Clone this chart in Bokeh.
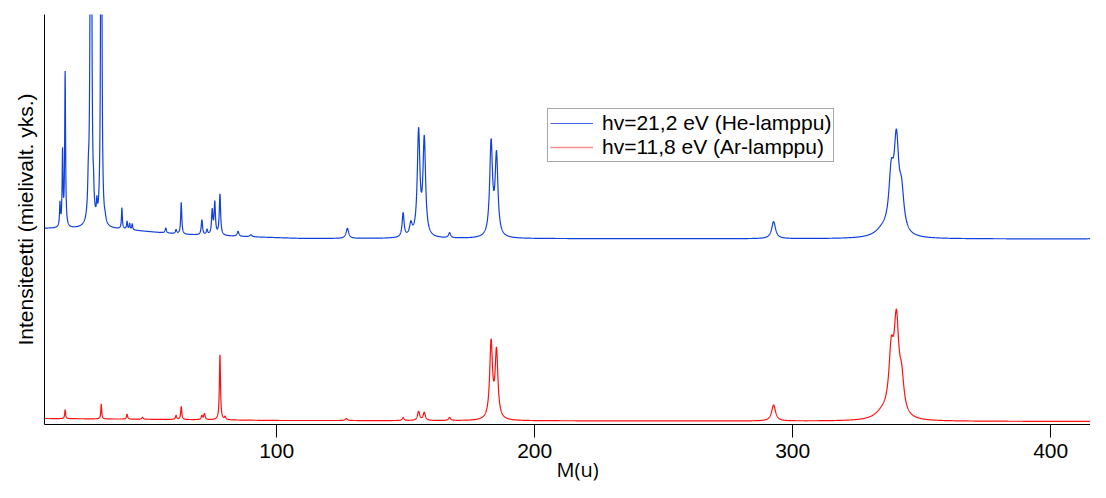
import numpy as np
from bokeh.plotting import figure
from bokeh.models import Range1d, FixedTicker, Legend, LegendItem, Title
from bokeh.embed import file_html
from bokeh.resources import INLINE

# ---------------- data ----------------
x_ticks = [100, 200, 300, 400]
x_label = "M(u)"
y_label = "Intensiteetti (mielivalt. yks.)"
series_names = ["hv=21,2 eV (He-lamppu)", "hv=11,8 eV (Ar-lamppu)"]

# He-lamp spectrum (upper, blue): baseline and peaks (mass, height, half width)
he_base_mass = [10, 40, 63, 85, 110, 422]
he_base_level = [196, 195, 190, 188, 186, 185.5]
he_peak_mass = [16, 17, 18, 27, 28, 29, 30.3, 32, 33.5, 40, 42, 43, 44, 57, 61, 63,
                71, 73, 75, 76, 78, 85, 90, 127.4, 149, 152, 155, 157.2, 167,
                183.1, 185.2, 292.6, 335, 338.2, 340.2, 342.2, 418.5]
he_peak_height = [23, 74, 154, 30, 900, 15, 15, 600, 4, 21, 8, 6, 6, 5, 4, 32,
                  15, 5, 24, 32, 41, 5, 2, 10, 24, 12, 104, 96, 5,
                  93, 80, 17, 7, 53, 87, 36, 3]
he_peak_width = [0.2, 0.2, 0.2, 0.3, 0.22, 0.2, 0.2, 0.22, 0.3, 0.2, 0.2, 0.2, 0.2, 0.3, 0.3, 0.25,
                 0.3, 0.3, 0.3, 0.3, 0.3, 0.4, 0.5, 0.6, 0.45, 0.6, 0.6, 0.6, 0.5,
                 0.65, 0.65, 0.9, 3.5, 1.1, 1.1, 1.1, 1.0]

# Ar-lamp spectrum (lower, red)
ar_base_mass = [10, 60, 100, 422]
ar_base_level = [6, 5, 4, 3]
ar_peak_mass = [18, 32, 42, 48, 61, 63, 71, 72, 78, 80, 127, 149, 155, 157.2, 167,
                183.1, 185.2, 292.6, 335, 338.2, 340.2, 342.2, 418.5]
ar_peak_height = [9, 15, 5, 2, 4, 13, 4, 6, 65, 3, 2, 3, 9, 8, 3,
                  76, 67, 16, 7, 58, 89, 32, 2]
ar_peak_width = [0.2, 0.2, 0.25, 0.3, 0.3, 0.25, 0.3, 0.3, 0.25, 0.3, 0.5, 0.4, 0.5, 0.5, 0.5,
                 0.65, 0.65, 0.9, 3.5, 1.1, 1.1, 1.1, 1.0]

# ---------------- build the traces ----------------
mass = np.arange(10, 422.001, 0.05)


def spectrum(base_m, base_v, pm, ph, pw):
    y = np.interp(mass, base_m, base_v)
    for m, h, g in zip(pm, ph, pw):
        y = y + h * g * g / ((mass - m) ** 2 + g * g)
    return y


he_y = spectrum(he_base_mass, he_base_level, he_peak_mass, he_peak_height, he_peak_width)
ar_y = spectrum(ar_base_mass, ar_base_level, ar_peak_mass, ar_peak_height, ar_peak_width)

BLUE = "#1040dd"
RED = "#ff1010"

W, H = 1090, 482
LEFT, TOP, BOTTOM = 44, 14, 58
px_per_unit = 2.58
x_end = 10 + (W - LEFT) / px_per_unit
y_end = H - TOP - BOTTOM

p = figure(width=W, height=H, output_backend="svg", toolbar_location=None,
           x_range=Range1d(10, x_end), y_range=Range1d(0, y_end),
           min_border_left=LEFT, min_border_right=0, min_border_top=TOP,
           min_border_bottom=BOTTOM)
p.outline_line_color = None
p.grid.visible = False
p.background_fill_color = "white"
p.border_fill_color = "white"

r_he = p.line(mass, he_y, line_color=BLUE, line_width=1.2)
r_ar = p.line(mass, ar_y, line_color=RED, line_width=1.2)

# legend-only glyphs (thin lines as in the reference legend), placed outside the view
l_he = p.line([0, 1], [-1000, -1000], line_color="#4a66d8", line_width=1)
l_ar = p.line([0, 1], [-1000, -1000], line_color="#ff8c8c", line_width=1.6)

# x axis
xa = p.xaxis[0]
xa.ticker = FixedTicker(ticks=x_ticks)
xa.minor_tick_line_color = None
xa.major_tick_in = 0
xa.major_tick_out = 13
xa.major_tick_line_color = "black"
xa.axis_line_color = "black"
xa.major_label_standoff = 6
xa.major_label_text_font = "Liberation Sans"
xa.major_label_text_font_size = "21px"
xa.major_label_text_color = "black"

# x axis title, placed beside the "200" tick label
p.add_layout(Title(text=x_label, align="left", offset=578 - LEFT - 22, standoff=-14,
                   text_font="Open Sans", text_font_size="20px",
                   text_font_style="normal", text_color="black"), "below")

# y axis (no ticks)
ya = p.yaxis[0]
ya.ticker = FixedTicker(ticks=[])
ya.minor_tick_line_color = None
ya.major_tick_in = 0
ya.major_tick_out = 0
ya.major_label_standoff = 0
ya.axis_line_color = "black"
ya.axis_label = y_label
ya.axis_label_text_font = "Liberation Sans"
ya.axis_label_text_font_size = "21px"
ya.axis_label_text_font_style = "normal"
ya.axis_label_text_color = "black"
ya.axis_label_standoff = 8

legend = Legend(items=[LegendItem(label=series_names[0], renderers=[l_he]),
                       LegendItem(label=series_names[1], renderers=[l_ar])],
                location=(503, 262), margin=0, padding=2, spacing=0,
                glyph_width=43, glyph_height=20, label_standoff=9,
                label_text_font="Liberation Sans", label_text_font_size="21px",
                label_text_color="black",
                border_line_color="#505050", border_line_width=1,
                background_fill_color="white", background_fill_alpha=1)
p.add_layout(legend)

open("out.html", "w").write(file_html(p, INLINE))
